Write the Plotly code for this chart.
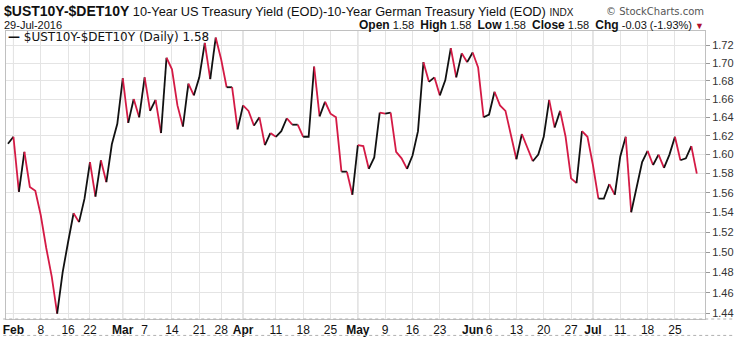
import pandas as pd
import numpy as np
import plotly.graph_objects as go

# ---- data -------------------------------------------------------------
holidays = ["2016-02-15", "2016-03-25", "2016-05-30", "2016-07-04"]
dates = [d.strftime("%Y-%m-%d") for d in pd.bdate_range("2016-01-29", "2016-07-29")
         if d.strftime("%Y-%m-%d") not in holidays]

spread = [
    1.6115, 1.619, 1.561, 1.603, 1.566, 1.562, 1.537, 1.504, 1.476, 1.440,
    1.480, 1.510, 1.539, 1.530, 1.554, 1.592, 1.556, 1.594, 1.571, 1.611,
    1.633, 1.683, 1.634, 1.660, 1.640, 1.684, 1.647, 1.659, 1.623, 1.706,
    1.693, 1.653, 1.630, 1.677, 1.664, 1.684, 1.723, 1.682, 1.729, 1.704,
    1.673, 1.673, 1.627, 1.653, 1.647, 1.631, 1.640, 1.610, 1.623, 1.619,
    1.625, 1.639, 1.632, 1.632, 1.619, 1.619, 1.696, 1.641, 1.657, 1.644,
    1.640, 1.582, 1.582, 1.558, 1.610, 1.609, 1.585, 1.597, 1.645, 1.644,
    1.645, 1.603, 1.596, 1.585, 1.599, 1.625, 1.701, 1.679, 1.684, 1.664,
    1.681, 1.717, 1.684, 1.711, 1.701, 1.712, 1.695, 1.640, 1.643, 1.668,
    1.653, 1.647, 1.621, 1.595, 1.622, 1.608, 1.593, 1.600, 1.619, 1.659,
    1.629, 1.647, 1.619, 1.575, 1.570, 1.625, 1.619, 1.589, 1.554, 1.554,
    1.569, 1.558, 1.598, 1.619, 1.540, 1.565, 1.592, 1.604, 1.589, 1.600,
    1.586, 1.600, 1.619, 1.594, 1.596, 1.609, 1.580,
]

tick_dates = ["2016-02-01", "2016-02-08", "2016-02-16", "2016-02-22",
              "2016-03-01", "2016-03-07", "2016-03-14", "2016-03-21", "2016-03-28",
              "2016-04-01", "2016-04-11", "2016-04-18", "2016-04-25",
              "2016-05-02", "2016-05-09", "2016-05-16", "2016-05-23",
              "2016-06-01", "2016-06-06", "2016-06-13", "2016-06-20", "2016-06-27",
              "2016-07-01", "2016-07-11", "2016-07-18", "2016-07-25"]
tick_labels = ["<b>Feb</b>", "8", "16", "22",
               "<b>Mar</b>", "7", "14", "21", "28",
               "<b>Apr</b>", "11", "18", "25",
               "<b>May</b>", "9", "16", "23",
               "<b>Jun</b>", "6", "13", "20", "27",
               "<b>Jul</b>", "11", "18", "25"]
month_starts = ["2016-02-01", "2016-03-01", "2016-04-01", "2016-05-02",
                "2016-06-01", "2016-07-01"]

y_ticks = [1.44, 1.46, 1.48, 1.50, 1.52, 1.54, 1.56, 1.58, 1.60, 1.62,
           1.64, 1.66, 1.68, 1.70, 1.72]

UP = "#111111"
DOWN = "#d41a45"

# ---- figure -----------------------------------------------------------
fig = go.Figure()

# split into runs of rising / falling segments
n = len(spread)
dirs = [spread[i + 1] >= spread[i] for i in range(n - 1)]
start = 0
for i in range(1, n):
    if i == n - 1 or dirs[i] != dirs[start]:
        fig.add_trace(go.Scatter(
            x=dates[start:i + 1], y=spread[start:i + 1], mode="lines",
            line=dict(color=UP if dirs[start] else DOWN, width=1.8),
            hoverinfo="skip", showlegend=False))
        start = i

shapes = []
for m in month_starts:
    shapes.append(dict(type="line", xref="x", yref="paper", x0=m, x1=m, y0=0, y1=1,
                       line=dict(color="#c4c4c4", width=1), layer="below"))
for yy in [0, -0.057]:
    shapes.append(dict(type="line", xref="paper", yref="paper", x0=-0.004, x1=1.041,
                       y0=yy, y1=yy, line=dict(color="#b0b0b0", width=1, dash="dot")))

FONT = "Liberation Sans, Arial, sans-serif"
VFONT = "DejaVu Sans, Verdana, sans-serif"
annotations = [
    dict(xref="paper", yref="paper", x=-0.004, y=1.0 + 20 / 290, xanchor="left", yanchor="middle",
         showarrow=False, borderpad=0,
         text="<b><span style='font-size:14px'>$UST10Y-$DET10Y</span></b> "
              "<span style='font-size:12.8px'>10-Year US Treasury Yield (EOD)-10-Year German Treasury Yield (EOD)</span> "
              "<span style='font-size:10px'>INDX</span>",
         font=dict(family=FONT, size=12.8, color="#111")),
    dict(xref="paper", yref="paper", x=1.0, y=1.0 + 20 / 290, xanchor="right", yanchor="middle",
         showarrow=False, borderpad=0, text="© StockCharts.com",
         font=dict(family=VFONT, size=10, color="#555")),
    dict(xref="paper", yref="paper", x=-0.004, y=1.0 + 6.5 / 290, xanchor="left", yanchor="middle",
         showarrow=False, borderpad=0, text="29-Jul-2016",
         font=dict(family=FONT, size=11, color="#111")),
    dict(xref="paper", yref="paper", x=1.0, y=1.0 + 6.5 / 290, xanchor="right", yanchor="middle",
         showarrow=False, borderpad=0,
         text="<b><span style='font-size:12px'>Open</span></b> 1.58  "
              "<b><span style='font-size:12px'>High</span></b> 1.58  "
              "<b><span style='font-size:12px'>Low</span></b> 1.58  "
              "<b><span style='font-size:12px'>Close</span></b> 1.58  "
              "<b><span style='font-size:12px'>Chg</span></b> -0.03 (-1.93%) "
              "<span style='color:#b0102e;font-size:9px'>▼</span>",
         font=dict(family=FONT, size=11, color="#111")),
    dict(xref="paper", yref="paper", x=0.002, y=1.0 - 6 / 290, xanchor="left", yanchor="middle",
         showarrow=False, borderpad=0, text="<b>—</b> $UST10Y-$DET10Y (Daily) 1.58",
         font=dict(family=VFONT, size=12, color="#111")),
]

fig.update_layout(
    width=748, height=340,
    margin=dict(l=3, r=43, t=31, b=19),
    paper_bgcolor="white", plot_bgcolor="white",
    shapes=shapes, annotations=annotations,
    xaxis=dict(type="category", categoryorder="array", categoryarray=dates,
               range=[-0.36, 127.5], tickvals=tick_dates, ticktext=tick_labels,
               showgrid=True, gridcolor="#e4e4e4", gridwidth=1,
               ticks="", showline=True, linecolor="#c0c0c0", mirror=True,
               tickfont=dict(family=FONT, size=12, color="#111"), zeroline=False),
    yaxis=dict(type="log", side="right",
               range=[np.log10(1.4349), np.log10(1.7365)],
               tickvals=y_ticks, ticktext=[f"{v:.2f}" for v in y_ticks],
               showgrid=True, gridcolor="#e4e4e4", gridwidth=1,
               ticks="outside", ticklen=4, tickcolor="#999",
               showline=True, linecolor="#c0c0c0", mirror=True,
               tickfont=dict(family=FONT, size=11, color="#333"), zeroline=False),
)

fig.write_html("out.html", config={"displayModeBar": False},
               post_script="document.body.style.margin='0';")
